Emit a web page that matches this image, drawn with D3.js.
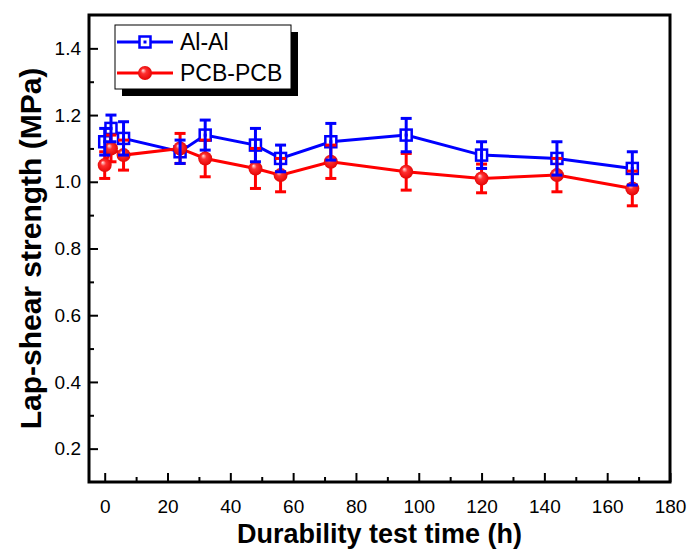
<!DOCTYPE html>
<html lang="en">
<head>
    <meta charset="UTF-8">
    <title>Lap-shear strength vs durability test time</title>
    <script src="https://d3js.org/d3.v7.min.js"></script>
    <style>
        body {
            margin: 0;
            background: #fff;
            font-family: "Liberation Sans", Arial, sans-serif;
        }
        .tick text {
            font-size: 19px;
            fill: #000;
        }
        .axis-title {
            font-weight: bold;
        }
        .legend-text {
            font-size: 23px;
        }
    </style>
</head>
<body>
    <div id="chart"></div>

    <script>
        // Data
        const hours = [0, 2, 6, 24, 32, 48, 56, 72, 96, 120, 144, 168];
        const alAl = [1.12, 1.16, 1.13, 1.09, 1.14, 1.11, 1.07, 1.12, 1.14, 1.08, 1.07, 1.04];
        const alAlErr = [0.04, 0.04, 0.05, 0.035, 0.045, 0.05, 0.04, 0.055, 0.05, 0.04, 0.05, 0.05];
        const pcbPcb = [1.05, 1.10, 1.08, 1.10, 1.07, 1.04, 1.02, 1.06, 1.03, 1.01, 1.02, 0.98];
        const pcbPcbErr = [0.04, 0.04, 0.045, 0.045, 0.055, 0.06, 0.05, 0.05, 0.055, 0.043, 0.05, 0.052];
        const seriesNames = ["Al-Al", "PCB-PCB"];

        const xTicks = [0, 20, 40, 60, 80, 100, 120, 140, 160, 180];
        const xMinorTicks = [10, 30, 50, 70, 90, 110, 130, 150, 170];
        const yTicks = [0.2, 0.4, 0.6, 0.8, 1.0, 1.2, 1.4];
        const yMinorTicks = [0.3, 0.5, 0.7, 0.9, 1.1, 1.3];

        const W = 689, H = 549;
        const plot = {left: 89, right: 670, top: 15, bottom: 482};

        const svg = d3.select("#chart")
            .append("svg")
                .attr("width", W)
                .attr("height", H);

        const x = d3.scaleLinear().domain([-5, 180]).range([plot.left, plot.right]);
        const y = d3.scaleLinear().domain([0.1, 1.5]).range([plot.bottom, plot.top]);

        // gradient for the red balls
        const defs = svg.append("defs");
        const grad = defs.append("radialGradient")
            .attr("id", "ball")
            .attr("cx", "50%").attr("cy", "50%").attr("r", "55%")
            .attr("fx", "35%").attr("fy", "30%");
        grad.append("stop").attr("offset", "0%").attr("stop-color", "#ffe6e6");
        grad.append("stop").attr("offset", "35%").attr("stop-color", "#ff3030");
        grad.append("stop").attr("offset", "100%").attr("stop-color", "#e00000");

        // axes (ticks point inward)
        svg.append("g")
            .attr("transform", `translate(0,${plot.bottom})`)
            .call(d3.axisBottom(x).tickValues(xTicks).tickSize(-9).tickPadding(18).tickFormat(d3.format("d")));
        svg.append("g")
            .attr("transform", `translate(0,${plot.bottom})`)
            .call(d3.axisBottom(x).tickValues(xMinorTicks).tickSize(-5).tickFormat(""));

        svg.append("g")
            .attr("transform", `translate(${plot.left},0)`)
            .call(d3.axisLeft(y).tickValues(yTicks).tickSize(-9).tickPadding(8).tickFormat(d3.format(".1f")));
        svg.append("g")
            .attr("transform", `translate(${plot.left},0)`)
            .call(d3.axisLeft(y).tickValues(yMinorTicks).tickSize(-5).tickFormat(""));

        svg.selectAll(".domain").remove();
        svg.selectAll(".tick line").attr("stroke", "#000").attr("stroke-width", 2);
        svg.selectAll(".tick text").attr("font-family", "Liberation Sans, Arial, sans-serif");

        // frame
        svg.append("rect")
            .attr("x", plot.left)
            .attr("y", plot.top)
            .attr("width", plot.right - plot.left)
            .attr("height", plot.bottom - plot.top)
            .attr("fill", "none")
            .attr("stroke", "#000")
            .attr("stroke-width", 3);

        // axis titles
        svg.append("text")
            .attr("class", "axis-title")
            .attr("x", (plot.left + plot.right) / 2)
            .attr("y", 543)
            .attr("text-anchor", "middle")
            .style("font-size", "27px")
            .text("Durability test time (h)");

        svg.append("text")
            .attr("class", "axis-title")
            .attr("transform", `translate(41,${(plot.top + plot.bottom) / 2}) rotate(-90)`)
            .attr("text-anchor", "middle")
            .style("font-size", "30px")
            .text("Lap-shear strength (MPa)");

        const blue = "#0000ff", red = "#ff0000";

        const seriesA = hours.map((h, i) => ({x: h, y: alAl[i], e: alAlErr[i]}));
        const seriesB = hours.map((h, i) => ({x: h, y: pcbPcb[i], e: pcbPcbErr[i]}));

        const line = d3.line().x(d => x(d.x)).y(d => y(d.y));

        svg.append("path").datum(seriesA)
            .attr("d", line).attr("fill", "none")
            .attr("stroke", blue).attr("stroke-width", 3);
        svg.append("path").datum(seriesB)
            .attr("d", line).attr("fill", "none")
            .attr("stroke", red).attr("stroke-width", 3);

        function drawSquares(g, data) {
            g.selectAll("rect.sq").data(data).join("rect")
                .attr("class", "sq")
                .attr("x", d => x(d.x) - 5.5)
                .attr("y", d => y(d.y) - 5.5)
                .attr("width", 11).attr("height", 11)
                .attr("fill", "#fff").attr("stroke", blue).attr("stroke-width", 2.5);
            g.selectAll("rect.dot").data(data).join("rect")
                .attr("class", "dot")
                .attr("x", d => x(d.x) - 1.5)
                .attr("y", d => y(d.y) - 1.5)
                .attr("width", 3).attr("height", 3)
                .attr("fill", blue);
        }

        function drawBalls(g, data) {
            g.selectAll("circle").data(data).join("circle")
                .attr("cx", d => x(d.x))
                .attr("cy", d => y(d.y))
                .attr("r", 7)
                .attr("fill", "url(#ball)");
        }

        function drawErrors(g, data, color) {
            const bars = g.selectAll("g").data(data).join("g")
                .attr("stroke", color).attr("stroke-width", 3);
            bars.append("line")
                .attr("x1", d => x(d.x)).attr("x2", d => x(d.x))
                .attr("y1", d => y(d.y + d.e)).attr("y2", d => y(d.y - d.e));
            bars.append("line")
                .attr("x1", d => x(d.x) - 5.5).attr("x2", d => x(d.x) + 5.5)
                .attr("y1", d => y(d.y + d.e)).attr("y2", d => y(d.y + d.e));
            bars.append("line")
                .attr("x1", d => x(d.x) - 5.5).attr("x2", d => x(d.x) + 5.5)
                .attr("y1", d => y(d.y - d.e)).attr("y2", d => y(d.y - d.e));
        }

        drawSquares(svg.append("g"), seriesA);
        drawErrors(svg.append("g"), seriesB, red);
        drawBalls(svg.append("g"), seriesB);
        drawErrors(svg.append("g"), seriesA, blue);

        // legend
        const legend = svg.append("g").attr("transform", "translate(115,25)");
        const lw = 176, lh = 64;
        legend.append("rect")
            .attr("x", 7).attr("y", 7).attr("width", lw).attr("height", lh)
            .attr("fill", "#000");
        legend.append("rect")
            .attr("x", 0).attr("y", 0).attr("width", lw).attr("height", lh)
            .attr("fill", "#fff").attr("stroke", "#000").attr("stroke-width", 1);

        seriesNames.forEach((name, i) => {
            const row = legend.append("g").attr("transform", `translate(0,${17 + i * 31})`);
            const color = i === 0 ? blue : red;
            row.append("line")
                .attr("x1", 2).attr("x2", 58).attr("y1", 0).attr("y2", 0)
                .attr("stroke", color).attr("stroke-width", 3);
            if (i === 0) {
                row.append("rect").attr("x", 30 - 5.5).attr("y", -5.5)
                    .attr("width", 11).attr("height", 11)
                    .attr("fill", "#fff").attr("stroke", blue).attr("stroke-width", 2.5);
                row.append("rect").attr("x", 28.5).attr("y", -1.5)
                    .attr("width", 3).attr("height", 3).attr("fill", blue);
            } else {
                row.append("circle").attr("cx", 30).attr("cy", 0).attr("r", 7)
                    .attr("fill", "url(#ball)");
            }
            row.append("text")
                .attr("class", "legend-text")
                .attr("x", 65).attr("y", 8)
                .text(name);
        });
    </script>
</body>
</html>
